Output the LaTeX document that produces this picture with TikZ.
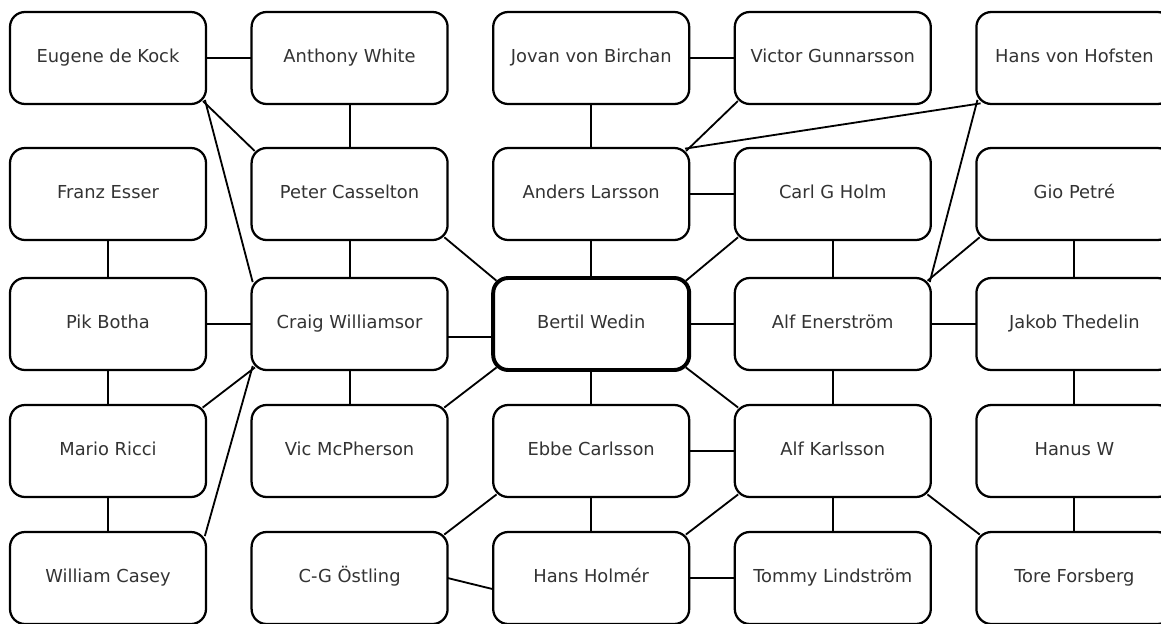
\documentclass[tikz,border=0pt]{standalone}
\usepackage{fontspec}
\setmainfont{DejaVu Sans}
\usetikzlibrary{positioning,backgrounds}

\begin{document}
\begin{tikzpicture}[node distance=1.14cm, auto]
    % Define styles
    \tikzstyle{person} = [draw, rectangle, rounded corners=0.375cm, minimum width=4.9cm, minimum height=2.3cm, outer sep=0pt, fill=white, line width=1.6pt, text=black!80, text height=1.7ex, text depth=0.5ex, font=\fontsize{12.7}{15}\selectfont]
    \tikzstyle{hub} = [person, line width=2.8pt]
    \tikzstyle{link} = [line width=1.3pt, shorten <=-3pt, shorten >=-3pt]

    \useasboundingbox (-2.7,1.45) rectangle (26.325,-14.125);

    % ROW 1
    \node (kock) [person] {Eugene de Kock};
    \node (white) [person, right=of kock] {Anthony White};
    \node (birchan) [person, right=of white] {Jovan von Birchan};
    \node (gunnarsson) [person, right=of birchan] {Victor Gunnarsson};
    \node (hofsten) [person, right=of gunnarsson] {Hans von Hofsten};

    % ROW 2
    \node (esser) [person, below=1.1cm of kock] {Franz Esser};
    \node (casselton) [person, below=1.1cm of white] {Peter Casselton};
    \node (larsson) [person, below=1.1cm of birchan] {Anders Larsson};
    \node (holm) [person, below=1.1cm of gunnarsson] {Carl G Holm};
    \node (petre) [person, below=1.1cm of hofsten] {Gio Petré};

    % ROW 3
    \node (botha) [person, below=0.95cm of esser] {Pik Botha};
    \node (williamson) [person, below=0.95cm of casselton] {Craig Williamsor};
    \node (wedin) [hub, below=0.95cm of larsson] {Bertil Wedin};
    \node (enerstrom) [person, below=0.95cm of holm] {Alf Enerström};
    \node (thedelin) [person, below=0.95cm of petre] {Jakob Thedelin};

    % ROW 4
    \node (ricci) [person, below=0.875cm of botha] {Mario Ricci};
    \node (mcpherson) [person, below=0.875cm of williamson] {Vic McPherson};
    \node (carlsson) [person, below=0.875cm of wedin] {Ebbe Carlsson};
    \node (karlsson) [person, below=0.875cm of enerstrom] {Alf Karlsson};
    \node (hanus) [person, below=0.875cm of thedelin] {Hanus W};

    % ROW 5
    \node (casey) [person, below=0.875cm of ricci] {William Casey};
    \node (ostling) [person, below=0.875cm of mcpherson] {C-G Östling};
    \node (holmer) [person, below=0.875cm of carlsson] {Hans Holmér};
    \node (lindstrom) [person, below=0.875cm of karlsson] {Tommy Lindström};
    \node (forsberg) [person, below=0.875cm of hanus] {Tore Forsberg};

    % CONNECTIONS
    \begin{scope}[on background layer]
    \draw[link] (kock) -- (white);
    \draw[link] (white) -- (casselton);
    \draw[link] (kock.south east) -- (casselton.north west);
    \draw[link] (kock.south east) -- (williamson.north west);
    \draw[link] (esser) -- (botha);
    \draw[link] (botha) -- (williamson);
    \draw[link] (casselton) -- (williamson);
    \draw[link] (casselton.south east) -- (wedin.north west);
    \draw[link] ([yshift=-0.33cm]williamson.east) -- ([yshift=-0.33cm]wedin.west);
    \draw[link] (botha) -- (ricci);
    \draw[link] (ricci.north east) -- (williamson.south west);
    \draw[link] (ricci) -- (casey);
    \draw[link] (casey.north east) -- (williamson.south west);
    \draw[link] (williamson) -- (mcpherson);
    \draw[link] (mcpherson.north east) -- (wedin.south west);

    \draw[link] (birchan) -- (gunnarsson);
    \draw[link] (birchan) -- (larsson);
    \draw[link] (larsson.north east) -- (gunnarsson.south west);
    \draw[link] (larsson.north east) -- (hofsten.south west);
    \draw[link] (larsson) -- (holm);
    \draw[link] (larsson) -- (wedin);
    \draw[link] (holm.south west) -- (wedin.north east);
    \draw[link] (holm) -- (enerstrom);
    \draw[link] (hofsten.south west) -- (enerstrom.north east);
    \draw[link] (petre.south west) -- (enerstrom.north east);
    \draw[link] (petre) -- (thedelin);
    \draw[link] (wedin) -- (enerstrom);
    \draw[link] (enerstrom) -- (thedelin);
    \draw[link] (enerstrom) -- (karlsson);

    \draw[link] (wedin.south east) -- (karlsson.north west);
    \draw[link] (wedin) -- (carlsson);
    \draw[link] (carlsson) -- (karlsson);
    \draw[link] (carlsson) -- (holmer);
    \draw[link] (carlsson.south west) -- (ostling.north east);
    \draw[link] (karlsson.south west) -- (holmer.north east);
    \draw[link] (karlsson) -- (lindstrom);
    \draw[link] (karlsson.south east) -- (forsberg.north west);
    \draw[link] (thedelin) -- (hanus);
    \draw[link] (hanus) -- (forsberg);
    \draw[link] (ostling.east) -- ([yshift=-0.28cm]holmer.west);
    \draw[link] (holmer) -- (lindstrom);
    \end{scope}

\end{tikzpicture}
\end{document}
